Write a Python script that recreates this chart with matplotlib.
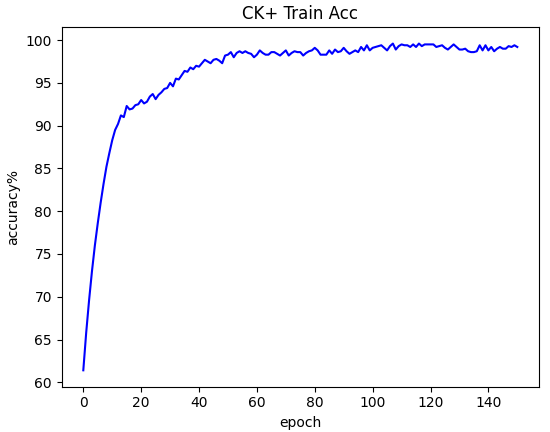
import matplotlib
matplotlib.use('Agg')
import matplotlib.pyplot as plt

# training accuracy per epoch
epochs = list(range(151))
train_acc = [
    61.4, 65.8, 69.6, 73.0, 76.0, 78.6, 81.0, 83.2, 85.2, 86.8,
    88.3, 89.5, 90.2, 91.2, 91.0, 92.3, 91.9, 92.0, 92.4, 92.5,
    93.0, 92.6, 92.8, 93.4, 93.7, 93.1, 93.6, 93.9, 94.3, 94.4,
    95.0, 94.6, 95.5, 95.4, 95.9, 96.4, 96.3, 96.8, 96.6, 97.0,
    96.9, 97.3, 97.7, 97.5, 97.3, 97.7, 97.8, 97.6, 97.3, 98.2,
    98.3, 98.6, 98.0, 98.5, 98.7, 98.5, 98.7, 98.5, 98.4, 98.0,
    98.3, 98.8, 98.5, 98.3, 98.3, 98.6, 98.6, 98.4, 98.2, 98.5,
    98.8, 98.2, 98.5, 98.7, 98.6, 98.6, 98.2, 98.5, 98.7, 98.8,
    99.1, 98.8, 98.3, 98.3, 98.3, 98.8, 98.4, 98.9, 98.6, 98.7,
    99.1, 98.7, 98.4, 98.6, 98.8, 98.6, 99.2, 98.8, 99.4, 98.8,
    99.1, 99.2, 99.3, 99.4, 99.1, 98.8, 99.3, 99.6, 98.9, 99.3,
    99.5, 99.4, 99.4, 99.2, 99.5, 99.2, 99.6, 99.3, 99.5, 99.5,
    99.5, 99.5, 99.2, 99.3, 99.4, 99.1, 98.9, 99.2, 99.5, 99.2,
    98.9, 98.9, 99.0, 98.7, 98.6, 98.6, 98.7, 99.4, 98.8, 99.4,
    98.8, 99.2, 98.7, 99.0, 99.2, 99.0, 99.0, 99.3, 99.2, 99.4,
    99.2,
]

fig = plt.figure(figsize=(5.5, 4.32), dpi=100)
plt.subplots_adjust(left=0.112, right=0.98, top=0.937, bottom=0.105)

plt.plot(epochs, train_acc, color='b')
plt.title('CK+ Train Acc')
plt.xlabel('epoch')
plt.ylabel('accuracy%')

plt.savefig('out.png')
